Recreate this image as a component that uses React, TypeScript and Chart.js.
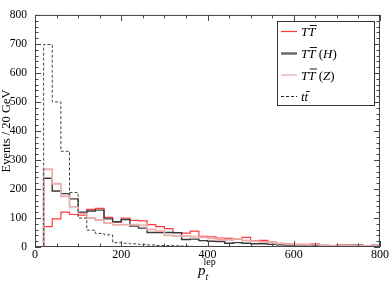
import React, { useEffect, useRef } from "react";
import { Chart, registerables } from "chart.js";
Chart.register(...registerables);

// ---- data (events per 20 GeV bin, bins from 0 to 800 GeV) ----
const binWidth = 20;
const seriesTT = [0, 70, 97, 120, 112, 110, 130, 133, 102, 86, 100, 92, 90, 77, 70, 63, 50, 48, 55, 37, 35, 31, 30, 27, 33, 22, 23, 17, 12, 11, 9, 9, 11, 6, 5, 8, 8, 6, 5, 6];
const seriesH = [0, 237, 193, 184, 166, 120, 124, 127, 97, 87, 95, 72, 65, 50, 50, 50, 49, 26, 27, 22, 20, 19, 13, 15, 13, 11, 11, 9, 8, 7, 4, 6, 6, 5, 4, 5, 8, 6, 4, 5];
const seriesZ = [0, 268, 218, 175, 138, 115, 100, 93, 82, 76, 77, 77, 75, 61, 55, 40, 38, 38, 36, 33, 30, 25, 25, 28, 22, 20, 18, 15, 12, 10, 8, 7, 8, 6, 5, 6, 6, 5, 4, 4];
const seriesTtbar = [0, 698, 500, 330, 188, 100, 58, 47, 42, 15, 13, 11, 9, 7, 5, 5, 4, 3, 2, 2, 2, 1, 1, 1, 1, 0, 0, 0, 0, 0, 0, 0, 0, 0, 0, 0, 0, 0, 0, 0];
const xMax = 800;
const yMax = 800;
const xTickValues = [0, 200, 400, 600, 800];
const yTickValues = [0, 100, 200, 300, 400, 500, 600, 700, 800];
const xMinorStep = 50;
const yMinorStep = 20;
const yTitle = "Events / 20 GeV";

const SERIF = "'Liberation Serif', 'DejaVu Serif', serif";

function toSteps(values: number[]) {
  const pts = values.map((v, i) => ({ x: i * binWidth, y: v }));
  pts.push({ x: values.length * binWidth, y: values[values.length - 1] });
  return pts;
}

type Run = [string, string, boolean?];
const IT = `italic 13px ${SERIF}`;
const RM = `13px ${SERIF}`;
const legendRows: { color: string; width: number; dash: number[]; runs: Run[] }[] = [
  { color: "#ff3a3a", width: 1.2, dash: [], runs: [["T", IT], ["T", IT, true]] },
  { color: "#666666", width: 2.4, dash: [], runs: [["T", IT], ["T", IT, true], [" (", RM], ["H", IT], [")", RM]] },
  { color: "#e8a8a8", width: 1.2, dash: [], runs: [["T", IT], ["T", IT, true], [" (", RM], ["Z", IT], [")", RM]] },
  { color: "#222222", width: 1, dash: [3, 2], runs: [["t", IT], ["t", IT, true]] },
];

function drawRuns(ctx: CanvasRenderingContext2D, x: number, y: number, runs: Run[]) {
  for (const [t, f, bar] of runs) {
    ctx.font = f;
    const w = ctx.measureText(t).width;
    ctx.fillText(t, x, y);
    if (bar) {
      const h = t === "t" ? 9.5 : 10.5;
      ctx.beginPath();
      ctx.lineWidth = 0.9;
      ctx.moveTo(x + 1.5, y - h);
      ctx.lineTo(x + w + 1.5, y - h);
      ctx.stroke();
    }
    x += w;
  }
  return x;
}

const decor = {
  id: "decor",
  afterDatasetsDraw(chart: any) {
    const { ctx, chartArea } = chart;
    const { left, right, top, bottom } = chartArea;
    const xs = chart.scales.x;
    const ys = chart.scales.y;
    ctx.save();
    ctx.strokeStyle = "#444";
    ctx.lineWidth = 1;
    ctx.setLineDash([]);
    ctx.strokeRect(left + 0.5, top + 0.5, right - left - 1, bottom - top - 1);
    ctx.beginPath();
    for (let v = 0; v <= xMax; v += xMinorStep) {
      const px = Math.round(xs.getPixelForValue(v)) + 0.5;
      const len = v % 200 === 0 ? 6 : 3.5;
      ctx.moveTo(px, bottom);
      ctx.lineTo(px, bottom - len);
      ctx.moveTo(px, top);
      ctx.lineTo(px, top + len);
    }
    for (let v = 0; v <= yMax; v += yMinorStep) {
      const py = Math.round(ys.getPixelForValue(v)) + 0.5;
      const len = v % 100 === 0 ? 6 : 3.5;
      ctx.moveTo(left, py);
      ctx.lineTo(left + len, py);
      ctx.moveTo(right, py);
      ctx.lineTo(right - len, py);
    }
    ctx.stroke();

    // legend
    ctx.fillStyle = "#fff";
    ctx.fillRect(277.5, 21.5, 97, 84);
    ctx.strokeStyle = "#333";
    ctx.lineWidth = 1;
    ctx.strokeRect(277.5, 21.5, 97, 84);
    const rowY = [31.5, 53.5, 75, 96.5];
    legendRows.forEach((r, i) => {
      ctx.beginPath();
      ctx.strokeStyle = r.color;
      ctx.lineWidth = r.width;
      ctx.setLineDash(r.dash);
      ctx.moveTo(281, rowY[i]);
      ctx.lineTo(297, rowY[i]);
      ctx.stroke();
      ctx.setLineDash([]);
      ctx.fillStyle = "#000";
      ctx.strokeStyle = "#000";
      ctx.textBaseline = "alphabetic";
      ctx.textAlign = "left";
      drawRuns(ctx, 301, rowY[i] + 4.5, r.runs);
    });

    // axis titles
    ctx.fillStyle = "#000";
    ctx.textAlign = "left";
    ctx.textBaseline = "alphabetic";
    ctx.font = `italic 15px ${SERIF}`;
    ctx.fillText("p", 198, 275);
    ctx.font = `italic 10px ${SERIF}`;
    ctx.fillText("t", 205.5, 280);
    ctx.font = `10px ${SERIF}`;
    ctx.fillText("lep", 203.5, 265);

    ctx.save();
    ctx.translate(6.5, (top + bottom) / 2);
    ctx.rotate(-Math.PI / 2);
    ctx.textAlign = "center";
    ctx.textBaseline = "middle";
    ctx.font = `12.5px ${SERIF}`;
    ctx.fillText(yTitle, 0, 0);
    ctx.restore();
    ctx.restore();
  },
};

export default function App() {
  const ref = useRef<HTMLCanvasElement>(null);
  useEffect(() => {
    document.body.style.margin = "0";
    const chart = new Chart(ref.current!, {
      type: "line",
      data: {
        datasets: [
          { label: "ttbar", data: toSteps(seriesTtbar), borderColor: "#444", borderWidth: 1, borderDash: [3, 2], stepped: true, pointRadius: 0, fill: false },
          { label: "TTbar (Z)", data: toSteps(seriesZ), borderColor: "#eab0b0", borderWidth: 1.8, stepped: true, pointRadius: 0, fill: false },
          { label: "TTbar (H)", data: toSteps(seriesH), borderColor: "#3a3a3a", borderWidth: 1.4, stepped: true, pointRadius: 0, fill: false },
          { label: "TTbar", data: toSteps(seriesTT), borderColor: "#ff3a3a", borderWidth: 1.2, stepped: true, pointRadius: 0, fill: false },
        ],
      },
      options: {
        responsive: false,
        animation: false,
        layout: { padding: { top: 5, right: 11, left: 0, bottom: 0 } },
        plugins: { legend: { display: false }, tooltip: { enabled: false } },
        scales: {
          x: {
            type: "linear",
            min: 0,
            max: xMax,
            afterFit: (s: any) => { s.height = 37; },
            afterBuildTicks: (s: any) => { s.ticks = xTickValues.map((v) => ({ value: v })); },
            grid: { display: false, drawTicks: false },
            border: { display: false },
            ticks: { color: "#000", font: { family: SERIF, size: 12 }, padding: 1, maxRotation: 0 },
          },
          y: {
            type: "linear",
            min: 0,
            max: yMax,
            afterFit: (s: any) => { s.width = 35; },
            afterBuildTicks: (s: any) => { s.ticks = yTickValues.map((v) => ({ value: v })); },
            grid: { display: false, drawTicks: false },
            border: { display: false },
            ticks: { color: "#000", font: { family: SERIF, size: 11.5 }, padding: 8 },
          },
        },
      },
      plugins: [decor],
    });
    return () => chart.destroy();
  }, []);
  return (
    <div style={{ width: 391, height: 284 }}>
      <canvas ref={ref} width={391} height={284} />
    </div>
  );
}
